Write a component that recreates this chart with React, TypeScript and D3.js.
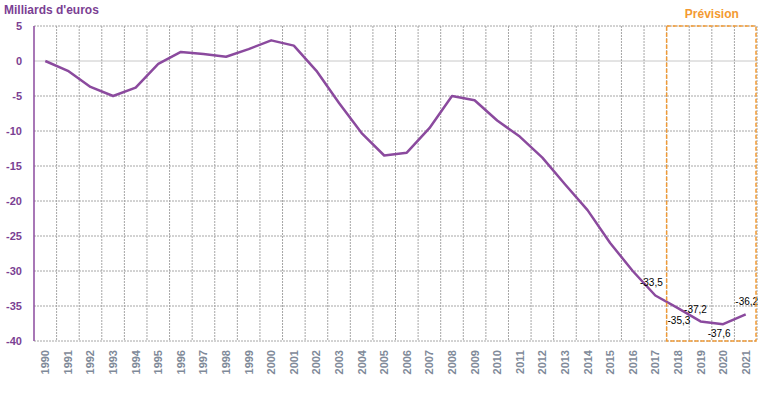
import React from 'react';
import * as d3 from 'd3';

const years = d3.range(1990, 2022).map(String);
const values = [
  0, -1.4, -3.7, -5.0, -3.8, -0.4, 1.3, 1.0, 0.6, 1.7,
  2.95, 2.2, -1.4, -6.0, -10.3, -13.5, -13.1, -9.6, -5.0, -5.6,
  -8.5, -10.8, -13.8, -17.6, -21.3, -26.0, -30.0, -33.5, -35.3, -37.2,
  -37.6, -36.2
];
const yTicks = [5, 0, -5, -10, -15, -20, -25, -30, -35, -40];
// labelled points: year, text, dx, dy
const labels = [
  { year: '2017', text: '-33,5', dx: -4, dy: -10 },
  { year: '2018', text: '-35,3', dx: 1, dy: 16 },
  { year: '2019', text: '-37,2', dx: -5, dy: -8 },
  { year: '2020', text: '-37,6', dx: -4, dy: 13 },
  { year: '2021', text: '-36,2', dx: 1, dy: -9 }
];
const forecastFrom = '2018';

const settings = { width: 775, height: 393, left: 34, right: 757, top: 26, bottom: 341 };
const purple = '#8B4A9E';
const labelPurple = '#7B3F93';
const orange = '#F39A32';
const font = '"Liberation Sans", Arial, sans-serif';

export default function App() {
  const { width, height, left, right, top, bottom } = settings;
  const x = d3.scaleBand().domain(years).range([left, right]);
  const y = d3.scaleLinear().domain([-40, 5]).range([bottom, top]);
  const cx = (yr: string) => (x(yr) as number) + x.bandwidth() / 2;

  const line = d3.line<number>()
    .x((d, i) => cx(years[i]))
    .y(d => y(d));

  const boundaries = years.map(yr => x(yr) as number).slice(1).concat([right]);
  const fx = x(forecastFrom) as number;

  return (
    <svg width={width} height={height} style={{ position: 'absolute', left: 0, top: 0 }}>
      <rect width={width} height={height} fill="#fff" />
      {yTicks.map(t => (
        <line key={'h' + t} x1={left} x2={right} y1={y(t)} y2={y(t)}
          stroke={t === 0 ? '#c8c8c8' : '#a6a6a6'} strokeWidth={1}
          strokeDasharray={t === 0 ? undefined : '2,1'} />
      ))}
      {boundaries.map((b, i) => (
        <line key={'v' + i} x1={b} x2={b} y1={top} y2={bottom}
          stroke="#a6a6a6" strokeWidth={1} strokeDasharray="2,1" />
      ))}
      <line x1={left} x2={left} y1={top} y2={bottom} stroke={purple} strokeWidth={1.5} />
      {yTicks.map(t => (
        <text key={'yl' + t} x={22} y={y(t) + 4} textAnchor="end" fontFamily={font}
          fontSize={11} fontWeight="bold" fill={labelPurple}>{t}</text>
      ))}
      {years.map(yr => (
        <text key={'xl' + yr} transform={`translate(${cx(yr) + 4},${bottom + 9}) rotate(-90)`}
          textAnchor="end" fontFamily={font} fontSize={11} fontWeight="bold" fill="#7f8a99">{yr}</text>
      ))}
      <path d={line(values) || ''} fill="none" stroke={purple} strokeWidth={2.5} strokeLinejoin="round" />
      {labels.map(l => {
        const i = years.indexOf(l.year);
        return (
          <text key={'dl' + l.year} x={cx(l.year) + l.dx} y={y(values[i]) + l.dy} textAnchor="middle"
            fontFamily={font} fontSize={10} fill="#000">{l.text}</text>
        );
      })}
      <rect x={fx} y={top} width={right - 1 - fx} height={bottom - top} fill="none"
        stroke={orange} strokeWidth={1.5} strokeDasharray="4,2" />
      <text x={(fx + right) / 2} y={18} textAnchor="middle" fontFamily={font} fontSize={12}
        fontWeight="bold" fill={orange}>Prévision</text>
      <text x={4} y={14} fontFamily={font} fontSize={12} fontWeight="bold" fill={labelPurple}>Milliards d'euros</text>
    </svg>
  );
}
